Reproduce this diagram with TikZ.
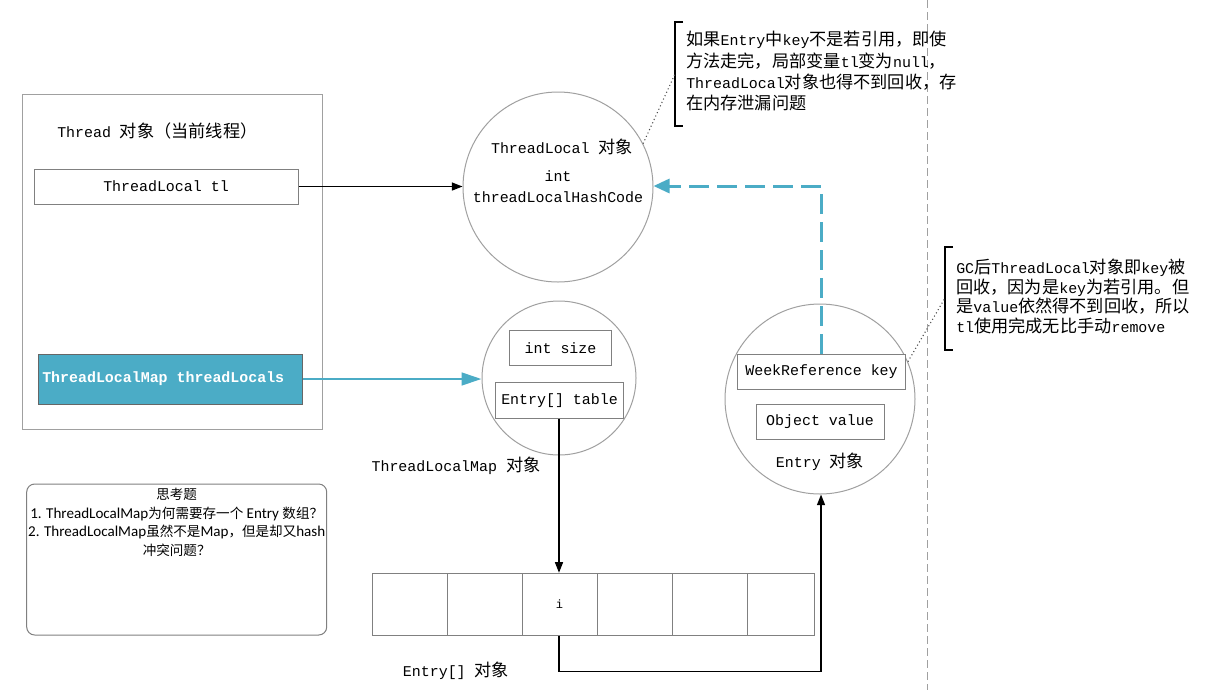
\documentclass[tikz,border=0pt]{standalone}
\usepackage{fontspec}
\setmainfont{Liberation Mono}
\newfontfamily\cjk[Scale=1.15]{Noto Sans CJK SC}
\newfontfamily\qcjk[Scale=0.9]{Noto Sans CJK SC}
\newfontfamily\qfont{Carlito}
\usetikzlibrary{arrows.meta}
\newcommand\zh[1]{{\cjk #1}}
\newcommand\qzh[1]{{\qcjk #1}}
\definecolor{tlblue}{RGB}{75,172,198}
\definecolor{boxgray}{RGB}{128,128,128}
\definecolor{circgray}{RGB}{160,160,160}
\tikzset{
  mono/.style={font=\fontsize{11.2pt}{14pt}\selectfont, inner sep=0pt},
  fbox/.style={draw=boxgray, line width=0.75pt, inner sep=0pt, mono},
  obj/.style={circle, draw=circgray, line width=0.75pt, inner sep=0pt},
  cell/.style={draw=boxgray, line width=0.75pt, minimum width=56.25pt, minimum height=46.5pt, inner sep=0pt, mono, font=\fontsize{9pt}{11pt}\selectfont},
  blk/.style={line width=1.1pt, -{Triangle[length=8pt,width=6pt]}},
  note/.style={mono, align=left, anchor=north west, font=\fontsize{11.2pt}{16pt}\selectfont},
  brk/.style={line width=0.9pt},
  dots/.style={dotted, line width=0.8pt, draw=black!70}
}
\begin{document}
\begin{tikzpicture}[x=0.75pt,y=-0.75pt]
\useasboundingbox (0,0) rectangle (1207,690);
\fill[white] (0,0) rectangle (1207,690);

% vertical dashed separator
\coordinate (sepTop) at (927,0);
\coordinate (sepBot) at (927,690);
\draw[draw=circgray, line width=0.75pt, dash pattern=on 6pt off 3pt] (sepTop) -- (sepBot);

% Thread object
\node[draw=circgray, line width=0.75pt, minimum width=225pt, minimum height=251.25pt, inner sep=0pt] (thread) at (172,261.5) {};
\node[mono, anchor=west] (threadlbl) at (57,131) {Thread \zh{对象（当前线程）}};
\node[fbox, minimum width=198pt, minimum height=26.25pt] (tl) at (166,186.5) {ThreadLocal tl};
\node[draw=boxgray!80!black, fill=tlblue, line width=0.75pt, minimum width=198pt, minimum height=37.5pt, inner sep=0pt] (map) at (170,379) {};
\node[mono, anchor=west, text=white, font=\fontsize{11.2pt}{14pt}\bfseries\selectfont] (maptxt) at (42,379) {ThreadLocalMap threadLocals};

% ThreadLocal object
\node[obj, minimum size=142.5pt] (tlc) at (558,187) {};
\node[mono] (tlclbl) at (562,147) {ThreadLocal \zh{对象}};
\node[mono] (tlcint) at (558,176) {int};
\node[mono] (tlchash) at (558,197) {threadLocalHashCode};

% ThreadLocalMap object
\node[obj, minimum size=115.5pt] (mapc) at (559,378) {};
\node[fbox, minimum width=76.5pt, minimum height=26.25pt] (size) at (560.5,348.3) {int size};
\node[fbox, minimum width=96pt, minimum height=27pt] (table) at (559.5,400.3) {Entry[] table};
\node[mono] (maplbl) at (456,466) {ThreadLocalMap \zh{对象}};

% Entry object
\node[obj, minimum size=142.5pt] (entry) at (820,399) {};
\node[fbox, fill=white, minimum width=126pt, minimum height=26.25pt] (key) at (821.5,371.8) {WeekReference key};
\node[fbox, minimum width=96pt, minimum height=26.25pt] (val) at (820,421.8) {Object value};
\node[mono] (entrylbl) at (820,462) {Entry \zh{对象}};

% Entry[] array
\node[cell] (c1) at (409.5,604.3) {};
\node[cell] (c2) at (484.5,604.3) {};
\node[cell] (c3) at (559.5,604.3) {i};
\node[cell] (c4) at (634.5,604.3) {};
\node[cell] (c5) at (709.5,604.3) {};
\node[cell, minimum width=50.25pt] (c6) at (780.8,604.3) {};
\node[mono] (arrlbl) at (456,671) {Entry[] \zh{对象}};

% connectors
\draw[blk] (tl.east) -- (tl.east -| tlc.west);
\draw[line width=2pt, draw=tlblue, -{Triangle[length=15pt,width=9.5pt]}] (map.east) -- (map.east -| mapc.west);
\draw[blk] (table.south -| 559,0) -- (c3.north -| 559,0);
\coordinate (retA) at (559,671.7);
\coordinate (retB) at (821,671.7);
\draw[blk] (c3.south -| 559,0) -- (retA) -- (retB) -- (entry.south -| retB);
\coordinate (dashTurn) at (821,186);
\draw[draw=tlblue, line width=2.25pt, dash pattern=on 15pt off 6pt, -{Triangle[length=12pt,width=10.5pt]}] (key.north -| dashTurn) -- (dashTurn) -- (dashTurn -| tlc.east);

% note 1
\draw[brk] (683,22) -- (675,22) -- (675,126) -- (683,126);
\coordinate (n1mid) at (675,74);
\node[note] (note1) at (686,31) {\zh{如果}Entry\zh{中}key\zh{不是若引用，即使}\\
\zh{方法走完，局部变量}tl\zh{变为}null\zh{，}\\
ThreadLocal\zh{对象也得不到回收，存}\\
\zh{在内存泄漏问题}};
\draw[dots] (tlc.27) -- (n1mid);

% note 2
\draw[brk] (953,247) -- (945,247) -- (945,350) -- (953,350);
\coordinate (n2mid) at (945,298);
\node[note, font=\fontsize{11.2pt}{14.6pt}\selectfont] (note2) at (956,259) {GC\zh{后}ThreadLocal\zh{对象即}key\zh{被}\\
\zh{回收，因为是}key\zh{为若引用。但}\\
\zh{是}value\zh{依然得不到回收，所以}\\
tl\zh{使用完成无比手动}remove};
\draw[dots] (entry.23) -- (n2mid);

% question box
\draw[draw=boxgray, line width=0.75pt, rounded corners=6pt] (26.7,484) rectangle (326.7,635);
\node[align=center, anchor=north, inner sep=0pt, font=\qfont\fontsize{11.3pt}{13.9pt}\selectfont] (q) at (176.7,488) {\qzh{思考题}\\
1. ThreadLocalMap\qzh{为何需要存一个} Entry \qzh{数组？}\\
2. ThreadLocalMap\qzh{虽然不是}Map\qzh{，但是却又}hash\\
\qzh{冲突问题？}};
\end{tikzpicture}
\end{document}
